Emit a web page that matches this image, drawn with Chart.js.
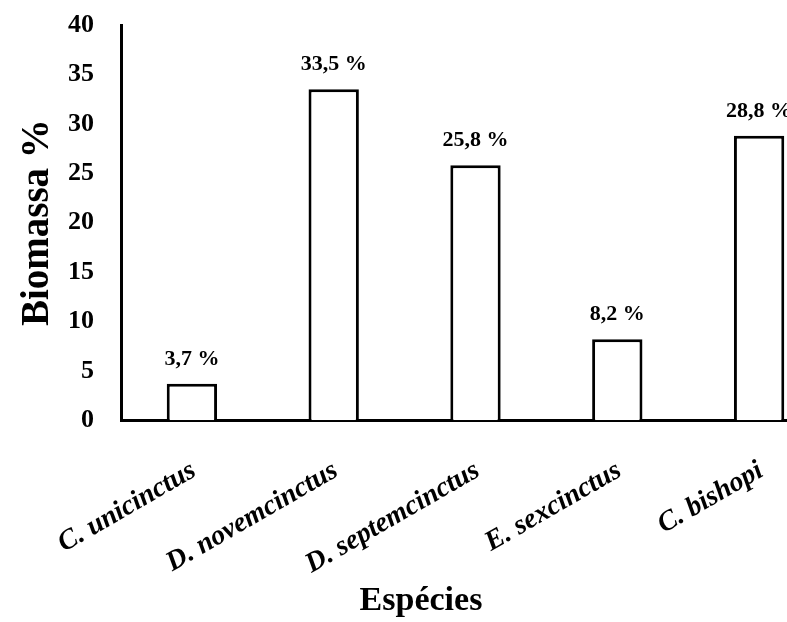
<!DOCTYPE html>
<html>
<head>
<meta charset="utf-8">
<script src="https://cdn.jsdelivr.net/npm/chart.js@4"></script>
<style>
  html, body { margin:0; padding:0; background:#fff; overflow:hidden; }
  #wrap { position:absolute; left:0; top:0; width:850px; height:622px; }
</style>
</head>
<body>
<div id="wrap"><canvas id="c" width="850" height="622"></canvas></div>
<script>
const categories = ["C. unicinctus", "D. novemcinctus", "D. septemcinctus", "E. sexcinctus", "C. bishopi"];
const biomass = [3.7, 33.5, 25.8, 8.2, 28.8];
const valueLabels = ["3,7 %", "33,5 %", "25,8 %", "8,2 %", "28,8 %"];
const yTicks = [0, 5, 10, 15, 20, 25, 30, 35, 40];

const SERIF = "'Liberation Serif', 'Times New Roman', serif";

const valueLabelPlugin = {
  id: 'valueLabels',
  afterDatasetsDraw(chart) {
    const ctx = chart.ctx;
    const meta = chart.getDatasetMeta(0);
    ctx.save();
    ctx.font = "bold 22px " + SERIF;
    ctx.fillStyle = "#000";
    ctx.textAlign = "center";
    ctx.textBaseline = "alphabetic";
    meta.data.forEach((bar, i) => {
      ctx.fillText(valueLabels[i], bar.x, bar.y - 19);
    });
    ctx.restore();
  }
};

new Chart(document.getElementById('c'), {
  type: 'bar',
  data: {
    labels: categories,
    datasets: [{
      data: biomass,
      backgroundColor: '#ffffff',
      borderColor: '#000000',
      borderWidth: 3,
      barPercentage: 0.355,
      categoryPercentage: 1.0
    }]
  },
  options: {
    responsive: false,
    animation: false,
    devicePixelRatio: 1,
    layout: { padding: { top: 25, right: 20, left: 12, bottom: 0 } },
    plugins: {
      legend: { display: false },
      tooltip: { enabled: false },
      title: {
        display: true,
        position: 'bottom',
        text: 'Espécies',
        color: '#000',
        font: { family: SERIF, size: 34, weight: 'bold' },
        padding: { top: 0, bottom: 0 }
      }
    },
    scales: {
      x: {
        grid: { display: false, drawTicks: false },
        border: { display: true, color: '#000', width: 3 },
        ticks: {
          color: '#000',
          font: { family: SERIF, size: 28, weight: 'bold', style: 'italic' },
          minRotation: 30,
          maxRotation: 30,
          autoSkip: false,
          padding: 34,
          labelOffset: 2
        },
        afterFit(scale) { scale.height = 161; }
      },
      y: {
        min: 0,
        max: 40,
        afterBuildTicks(scale) { scale.ticks = yTicks.map(v => ({ value: v })); },
        grid: { display: false, drawTicks: false },
        border: { display: true, color: '#000', width: 3 },
        ticks: {
          color: '#000',
          font: { family: SERIF, size: 26, weight: 'bold' },
          padding: 27
        },
        title: {
          display: true,
          text: 'Biomassa %',
          color: '#000',
          font: { family: SERIF, size: 39, weight: 'bold' },
          padding: { top: 3, bottom: 0 }
        },
        afterFit(scale) {
          scale.width = 109;
          scale.paddingTop = 0;
          scale.paddingBottom = 0;
        }
      }
    }
  },
  plugins: [valueLabelPlugin]
});
</script>
</body>
</html>
